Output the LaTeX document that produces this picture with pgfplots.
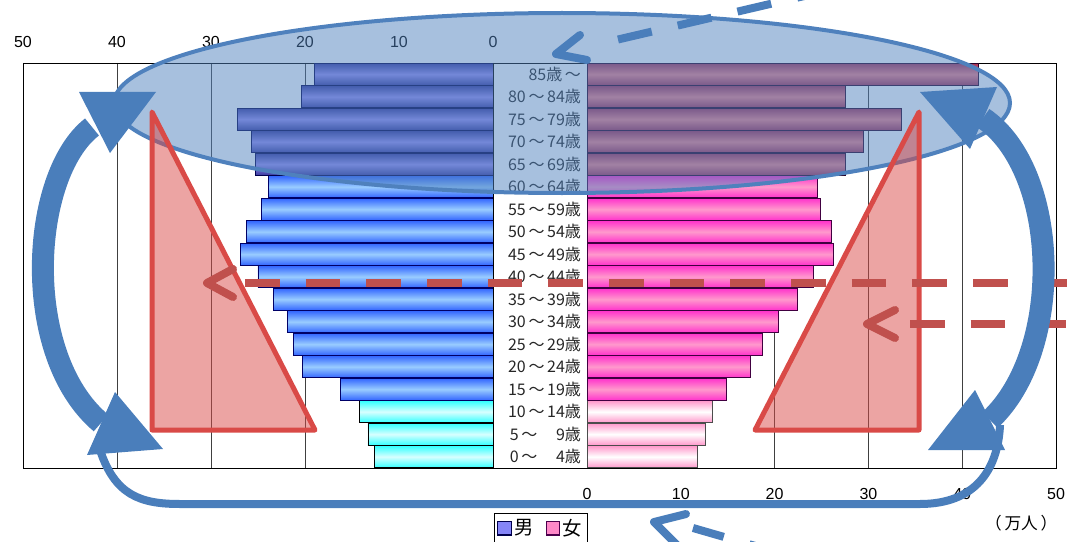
\documentclass[border=0pt]{standalone}
\usepackage{pgfplots}
\usepackage{pgfplotstable}
\pgfplotsset{compat=1.18}
\usepackage{fontspec}
\setmainfont{Liberation Sans}
\newfontfamily\jp{Noto Sans CJK JP}

% bar colours: edge / centre of the vertical gradient
\definecolor{mYe}{HTML}{33FFFF}
\definecolor{mYc}{HTML}{D8FFFF}
\definecolor{mMe}{HTML}{3366FF}
\definecolor{mMc}{HTML}{99CCFF}
\definecolor{mOe}{HTML}{3A3A9E}
\definecolor{mOc}{HTML}{9A90F5}
\definecolor{fYe}{HTML}{FF99CC}
\definecolor{fYc}{HTML}{FFFFFF}
\definecolor{fMe}{HTML}{FF33CC}
\definecolor{fMc}{HTML}{FF99CC}
\definecolor{fOe}{HTML}{A83358}
\definecolor{fOc}{HTML}{F5828A}
\definecolor{legM}{HTML}{8585F8}
\definecolor{legF}{HTML}{FF88C8}
% overlay colours
\definecolor{ovl}{HTML}{4F81BD}
\definecolor{arc}{HTML}{4A7EBB}
\definecolor{tri}{HTML}{D94A47}
\definecolor{dsh}{HTML}{C0504D}

% age group (0 = 0-4 ... 17 = 85+), male, female, in 10 thousands
\pgfplotstableread{
a m f
0 12.6 11.8
1 13.3 12.6
2 14.2 13.4
3 16.2 14.9
4 20.3 17.4
5 21.2 18.7
6 21.9 20.4
7 23.4 22.4
8 25.0 24.1
9 26.9 26.3
10 26.2 26.1
11 24.6 24.9
12 23.9 24.6
13 25.3 27.6
14 25.7 29.5
15 27.2 33.5
16 20.4 27.6
17 19.0 41.7
}\pop

\pgfplotsset{
  pyr/.style={
    height=303.75pt, scale only axis,
    xbar, bar width=0.97, bar shift=0pt,
    xmin=0, xmax=50, ymin=-0.5, ymax=17.5,
    xtick={0,10,20,30,40,50},
    xmajorgrids, grid style={black!75, line width=0.5pt},
    axis line style={black, line width=0.7pt},
    tick align=inside, major tick length=3pt,
    tick style={black!75, line width=0.5pt},
    ytick style={draw=none},
    xticklabel style={font=\fontsize{12}{14}\selectfont},
    /pgf/number format/assume math mode=true,
  },
  grad/.style n args={3}{top color=#1, bottom color=#1, middle color=#2, draw=#3, line width=0.6pt},
  % keep only the row with the given index
  row/.style={x filter/.expression={\coordindex==#1 ? x : nan}},
}

\begin{document}
\begin{tikzpicture}
\useasboundingbox (0,0) rectangle (800.25pt,-406.5pt);

% male (one plot per bar so that every bar gets its own gradient)
\begin{axis}[pyr, at={(17.25pt,-47.25pt)}, anchor=north west, width=352.5pt,
  x dir=reverse, xticklabel pos=upper, ytick=\empty,
  xticklabel style={yshift=8pt}]
\pgfplotsinvokeforeach{0,...,2}{
  \addplot[grad={mYe}{mYc}{black}, row=#1] table[x=m, y=a] {\pop};}
\pgfplotsinvokeforeach{3,...,12}{
  \addplot[grad={mMe}{mMc}{blue!40!black}, row=#1] table[x=m, y=a] {\pop};}
\pgfplotsinvokeforeach{13,...,17}{
  \addplot[grad={mOe}{mOc}{blue!30!black}, row=#1] table[x=m, y=a] {\pop};}
\end{axis}

% female
\begin{axis}[pyr, at={(440.25pt,-47.25pt)}, anchor=north west, width=351.75pt,
  xticklabel style={yshift=-12pt},
  ytick={0,...,17},
  yticklabels={0\,～\,　4歳,5\,～\,　9歳,10\,～\,14歳,15\,～\,19歳,20\,～\,24歳,25\,～\,29歳,30\,～\,34歳,35\,～\,39歳,40\,～\,44歳,45\,～\,49歳,50\,～\,54歳,55\,～\,59歳,60\,～\,64歳,65\,～\,69歳,70\,～\,74歳,75\,～\,79歳,80\,～\,84歳,85歳\,～},
  yticklabel style={font=\jp\fontsize{12}{14}\selectfont, text=black!85, xshift=-1pt},
  legend image code/.code={\draw[#1] (0pt,-5pt) rectangle (10pt,5pt);},
  legend style={at={(-0.098,-0.149)}, anchor=center, legend columns=2,
    font=\jp\fontsize{14.5}{16}\selectfont, draw=black, line width=0.6pt,
    inner sep=2pt, /tikz/every even column/.append style={column sep=7pt}}]
\addlegendimage{fill=legM, draw=blue!30!black, line width=0.8pt}
\addlegendentry{男}
\addlegendimage{fill=legF, draw=violet!60!black, line width=0.8pt}
\addlegendentry{女}
\pgfplotsinvokeforeach{0,...,2}{
  \addplot[forget plot, grad={fYe}{fYc}{black!70}, row=#1] table[x=f, y=a] {\pop};}
\pgfplotsinvokeforeach{3,...,12}{
  \addplot[forget plot, grad={fMe}{fMc}{violet!50!black}, row=#1] table[x=f, y=a] {\pop};}
\pgfplotsinvokeforeach{13,...,17}{
  \addplot[forget plot, grad={fOe}{fOc}{violet!30!black}, row=#1] table[x=f, y=a] {\pop};}
\end{axis}

\begin{scope}[x=0.75pt, y=-0.75pt]
% frame across the label column
\draw[black, line width=0.7pt] (493,63) -- (587,63);
\draw[black, line width=0.7pt] (493,468) -- (587,468);
\node[font=\jp\fontsize{12.5}{14}\selectfont, anchor=east] at (1062,523) {（\,万人\,）};

% shaded ellipse round the old age groups
\fill[ovl, fill opacity=0.5] (562,103) ellipse [x radius=336pt, y radius=67.5pt];
\draw[ovl, line width=3pt] (562,103) ellipse [x radius=336pt, y radius=67.5pt];

% red triangles
\draw[tri, line width=3.75pt, line join=round, fill=tri, fill opacity=0.5]
  (152,112) -- (152,430) -- (315,430) -- cycle;
\draw[tri, line width=3.75pt, line join=round, fill=tri, fill opacity=0.5]
  (919,112) -- (919,430) -- (755,430) -- cycle;

% red dashed arrows
\draw[dsh, line width=6pt, dash pattern=on 26pt off 19.5pt] (245,283) -- (1080,283);
\draw[dsh, line width=6pt, line cap=round, line join=round] (233,269) -- (207,283) -- (233,297);
\draw[dsh, line width=6pt, dash pattern=on 26pt off 19.5pt] (910,324) -- (1080,324);
\draw[dsh, line width=6pt, line cap=round, line join=round] (895,310) -- (867,324) -- (895,338);

% blue curved arrows
\draw[arc, line width=16.5pt] (92,127) .. controls (30,175) and (20,355) .. (101,423);
\fill[arc] (156,92) -- (79,92) -- (110,153) -- cycle;
\fill[arc] (163,449) -- (115,392) -- (87,455) -- cycle;
\draw[arc, line width=16.5pt] (983,118) .. controls (1060,170) and (1065,350) .. (990,420);
\fill[arc] (920,92) -- (997,87) -- (970,149) -- cycle;
\fill[arc] (928,450) -- (1005,450) -- (975,390) -- cycle;
\draw[arc, line width=6pt] (100,450) .. controls (115,495) and (140,504) .. (180,504)
  -- (920,504) .. controls (975,504) and (998,470) .. (1000,425);

% blue dashed arrows
\draw[arc, line width=6pt, dash pattern=on 26pt off 20pt] (618,39.5) -- (845,-13.5);
\draw[arc, line width=6pt, line cap=round, line join=round] (580,35) -- (556,54) -- (587,60);
\draw[arc, line width=6pt, dash pattern=on 24pt off 20pt] (693,528) -- (790,556);
\draw[arc, line width=6pt, line cap=round, line join=round] (686,514) -- (654,522) -- (680,548);
\end{scope}
\end{tikzpicture}
\end{document}
